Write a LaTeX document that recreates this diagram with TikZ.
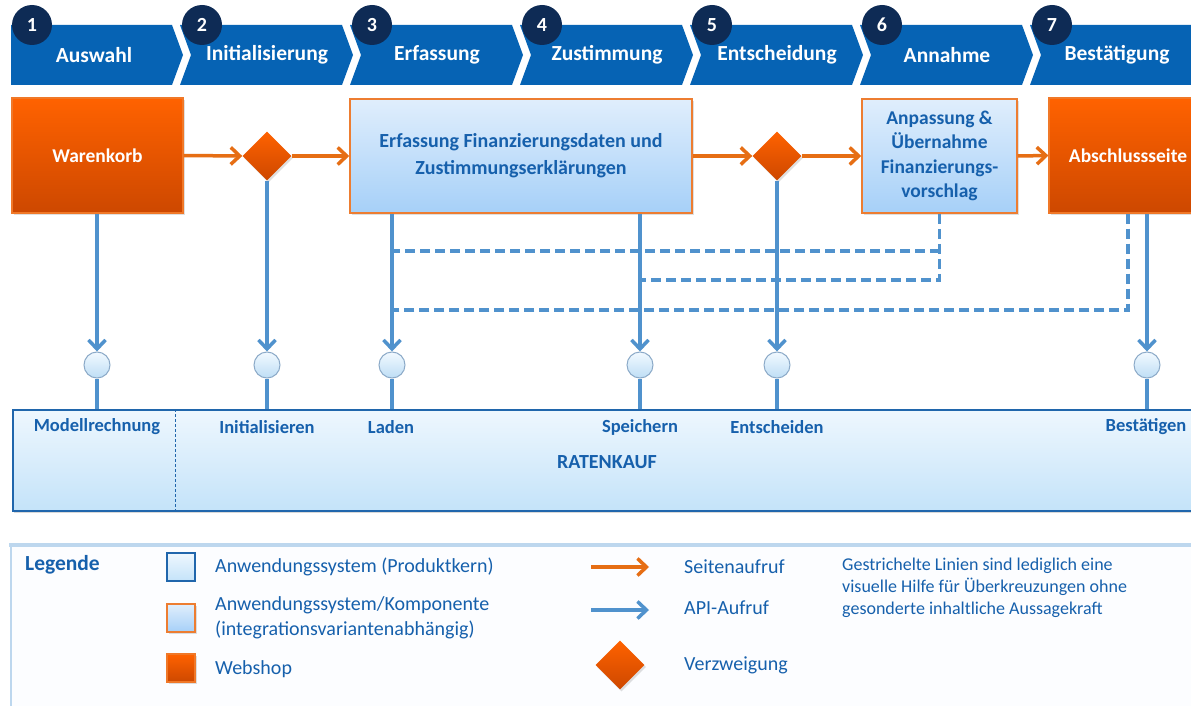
\documentclass[tikz,border=0pt]{standalone}
\usepackage{fontspec}
\setmainfont{Carlito}
\usetikzlibrary{arrows.meta,shapes.geometric,shadows,calc}
\definecolor{bannerblue}{RGB}{6,99,180}
\definecolor{navy}{RGB}{14,43,85}
\definecolor{arroworange}{RGB}{230,110,20}
\definecolor{wstop}{RGB}{255,98,0}
\definecolor{wsbot}{RGB}{205,72,0}
\definecolor{wsborder}{RGB}{240,120,40}
\definecolor{apptop}{RGB}{224,238,252}
\definecolor{appbot}{RGB}{166,208,248}
\definecolor{appborder}{RGB}{237,125,49}
\definecolor{textblue}{RGB}{22,96,172}
\definecolor{apiblue}{RGB}{80,146,205}
\definecolor{rktop}{RGB}{238,247,254}
\definecolor{rkbot}{RGB}{196,227,249}
\definecolor{rkborder}{RGB}{32,102,172}
\definecolor{lollitop}{RGB}{242,249,255}
\definecolor{lollibot}{RGB}{190,222,245}
\definecolor{lolliborder}{RGB}{140,170,200}
\definecolor{legline}{RGB}{189,215,238}
\definecolor{legbg}{RGB}{252,253,255}
\begin{document}
\begin{tikzpicture}[x=1pt,y=-1pt,
  bannertext/.style={text=white,font=\bfseries\fontsize{21.5}{24}\selectfont,inner sep=0},
  numcirc/.style={circle,fill=navy,minimum size=40,inner sep=0,text=white,font=\bfseries\fontsize{20}{24}\selectfont},
  softshadow/.style={drop shadow={opacity=0.25,shadow xshift=1.5pt,shadow yshift=-2pt}},
  webshop/.style={rectangle,draw=wsborder,line width=1.2pt,top color=wstop,bottom color=wsbot,text=white,
    font=\bfseries\fontsize{19.5}{23}\selectfont,inner sep=0,softshadow},
  appbox/.style={rectangle,draw=appborder,line width=1.5pt,top color=apptop,bottom color=appbot,text=textblue,
    align=center,inner sep=0,softshadow},
  decision/.style={diamond,minimum width=49,minimum height=49,inner sep=0,top color=wstop,bottom color=wsbot,softshadow},
  page/.style={draw=arroworange,line width=3.5pt,-{Straight Barb[length=9pt,width=17pt]}},
  api/.style={draw=apiblue,line width=3.5pt,-{Straight Barb[length=9pt,width=17pt]}},
  apiline/.style={draw=apiblue,line width=3.5pt},
  dashline/.style={draw=apiblue,line width=3.5pt,dash pattern=on 10pt off 5pt},
  lolli/.style={circle,minimum size=26,inner sep=0,draw=lolliborder,line width=1pt,top color=lollitop,bottom color=lollibot},
  rkbox/.style={rectangle,draw=rkborder,line width=1.5pt,top color=rktop,bottom color=rkbot,inner sep=0,
    drop shadow={opacity=0.3,shadow xshift=1pt,shadow yshift=-2.5pt}},
  rklabel/.style={text=textblue,font=\bfseries\fontsize{18.5}{22}\selectfont,inner sep=0},
  legtext/.style={text=textblue,font=\fontsize{20}{25}\selectfont,inner sep=0,anchor=west,align=left},
  notetext/.style={text=textblue,font=\fontsize{18}{22}\selectfont,inner sep=0,anchor=west,align=left},
  legsq/.style={rectangle,minimum size=28,inner sep=0,line width=1.5pt}
]
\useasboundingbox (0,0) rectangle (1191,706);
\fill[white] (0,0) rectangle (1191,706);

% ---- banner ----
\fill[bannerblue] (11,25) -- (172,25) -- (183,55) -- (172,85) -- (11,85) -- cycle;
\node[bannertext] (p1) at (94,55) {Auswahl};
\node[numcirc] (k1) at (32,25) {1};
\foreach \i/\s/\lab in {2/180/Initialisierung,3/350/Erfassung,4/520/Zustimmung,5/690/Entscheidung,6/860/Annahme,7/1030/Bestätigung}{
  \fill[bannerblue] (\s,25) -- ({\s+162},25) -- ({\s+173},55) -- ({\s+162},85) -- (\s,85) -- ({\s+11},55) -- cycle;
  \node[bannertext] (p\i) at ({\s+87},55) {\lab};
  \node[numcirc] (k\i) at ({\s+22},25) {\i};
}

% ---- process row ----
\node[webshop,minimum width=171,minimum height=115] (wk) at (97.5,155.5) {Warenkorb};
\node[decision] (d1) at (267,156) {};
\node[appbox,minimum width=342,minimum height=114,font=\bfseries\fontsize{20}{27}\selectfont] (erf) at (521,156)
  {Erfassung Finanzierungsdaten und\\Zustimmungserklärungen};
\node[decision] (d2) at (777,156) {};
\node[appbox,minimum width=155,minimum height=114,font=\bfseries\fontsize{19.5}{24.5}\selectfont] (anp) at (939.5,156)
  {Anpassung \&\\Übernahme\\Finanzierungs-\\vorschlag};
\node[webshop,minimum width=158,minimum height=115] (abs) at (1128,155.5) {Abschlussseite};

\draw[page] (wk.east) -- (d1.west);
\draw[page] (d1.east) -- (erf.west);
\draw[page] (erf.east) -- (d2.west);
\draw[page] (d2.east) -- (anp.west);
\draw[page] (anp.east) -- (abs.west);

% ---- Ratenkauf box ----
\node[rkbox,minimum width=1190,minimum height=101,anchor=north west] (rk) at (12,409) {};
\draw[rkborder,line width=1pt,dash pattern=on 3pt off 2pt] ($(rk.north west)+(163,0)$) -- ($(rk.south west)+(163,0)$);

% ---- interface circles ----
\node[lolli] (c1) at (97,365) {};
\node[lolli] (c2) at (267,365) {};
\node[lolli] (c3) at (392,365) {};
\node[lolli] (c4) at (640,365) {};
\node[lolli] (c5) at (777,365) {};
\node[lolli] (c6) at (1147,365) {};

% ---- dashed helper lines ----
\coordinate (h1) at (0,251);
\coordinate (h2) at (0,280);
\coordinate (h3) at (0,310);
\draw[dashline] (anp.south) -- (anp.south |- h2) -- (c4 |- h2);
\draw[dashline] (anp.south |- h1) -- (c3 |- h1);
\draw[dashline] (abs.south) -- (abs.south |- h3) -- (c3 |- h3);

% ---- API calls ----
\draw[api] (c1 |- wk.south) -- (c1.north);
\draw[api] (d1.south) -- (c2.north);
\draw[api] (c3 |- erf.south) -- (c3.north);
\draw[api] (c4 |- erf.south) -- (c4.north);
\draw[api] (d2.south) -- (c5.north);
\draw[api] (c6 |- abs.south) -- (c6.north);
\foreach \c in {c1,c2,c3,c4,c5,c6}{
  \draw[apiline] (\c.south) -- (\c |- rk.north);
}

% ---- labels in Ratenkauf ----
\node[rklabel] (l1) at (97,427) {Modellrechnung};
\node[rklabel] (l2) at (267,427) {Initialisieren};
\node[rklabel] (l3) at (391,427) {Laden};
\node[rklabel] (l4) at (640,427) {Speichern};
\node[rklabel] (l5) at (777,427) {Entscheiden};
\node[rklabel] (l6) at (1146,427) {Bestätigen};
\node[rklabel,font=\bfseries\fontsize{20}{24}\selectfont] (l7) at (607,462) {RATENKAUF};

% ---- legend ----
\fill[legbg] (11,545) rectangle (1200,720);
\draw[legline,line width=1.5pt] (11,720) -- (11,545);
\draw[legline,line width=4pt] (9,545) -- (1200,545);
\node[text=textblue,font=\bfseries\fontsize{21.5}{25}\selectfont,inner sep=0,anchor=west] (lg) at (25,565) {Legende};

\node[legsq,draw=rkborder,top color=rktop,bottom color=rkbot] (s1) at (181,567) {};
\node[legsq,draw=appborder,top color=apptop,bottom color=appbot,softshadow] (s2) at (181,618) {};
\node[legsq,draw=wsborder,top color=wstop,bottom color=wsbot,softshadow] (s3) at (181,668) {};
\node[legtext] (t1) at (215,567) {Anwendungssystem (Produktkern)};
\node[legtext] (t2) at (215,618) {Anwendungssystem/Komponente\\(integrationsvariantenabhängig)};
\node[legtext] (t3) at (215,669) {Webshop};

\coordinate (la1) at (591,567);
\coordinate (lb1) at (649,567);
\coordinate (la2) at (591,610);
\coordinate (lb2) at (649,610);
\draw[page] (la1) -- (lb1);
\draw[api] (la2) -- (lb2);
\node[decision] (ld) at (620,665) {};
\node[legtext] (t4) at (684,567) {Seitenaufruf};
\node[legtext] (t5) at (684,608) {API-Aufruf};
\node[legtext] (t6) at (684,665) {Verzweigung};
\node[notetext] (t7) at (842,588) {Gestrichelte Linien sind lediglich eine\\visuelle Hilfe für Überkreuzungen ohne\\gesonderte inhaltliche Aussagekraft};
\end{tikzpicture}
\end{document}
